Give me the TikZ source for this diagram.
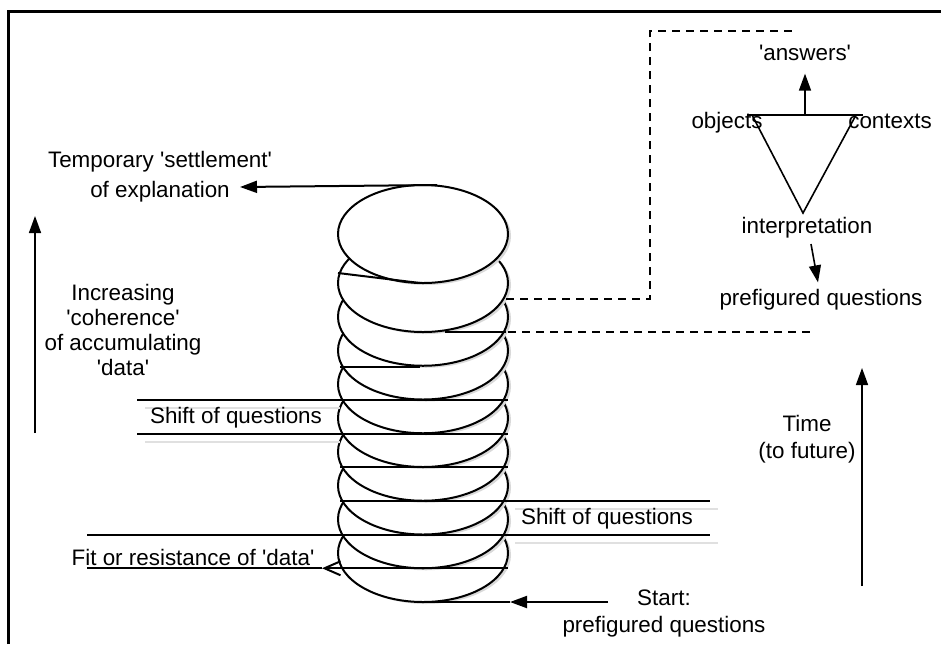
\documentclass[tikz,border=0pt]{standalone}
\usepackage{fontspec}
\setmainfont{Liberation Sans}[Ligatures=TeXOff]
\usepackage{tikz}
\usetikzlibrary{arrows.meta}

\begin{document}
\begin{tikzpicture}[x=0.5pt,y=-0.5pt,
    lbl/.style={anchor=base,align=center,inner sep=3pt,font=\fontsize{11.2}{13.5}\selectfont},
    disc/.style={draw,line width=1pt,fill=white},
    discshadow/.style={fill=black!15},
    rule/.style={line width=1pt},
    ruleshadow/.style={line width=1pt,black!12},
    guide/.style={line width=0.8pt,dash pattern=on 4pt off 3pt},
    tip/.style={-{Triangle[length=8.5pt,width=6pt]}},
    barb/.style={-{Straight Barb[length=8pt,width=7pt]}}]
      \useasboundingbox (0,0) rectangle (941,644);
      \draw[line width=1.5pt] (8,644)--(8,11)--(941,11);
      \foreach \k in {8,...,0}{
        \fill[discshadow] (426,285+33.75*\k) ellipse [x radius=85,y radius=49];
        \draw[disc] (423,283+33.75*\k) ellipse [x radius=85,y radius=49];
      }
      \fill[discshadow] (426,236) ellipse [x radius=85,y radius=49];
      \draw[disc] (423,234) ellipse [x radius=85,y radius=49];
      \draw[rule] (338,273)--(420,283);
      \draw[rule] (445,332)--(506,332);
      \draw[rule] (340,367)--(420,367);
      \draw[ruleshadow] (145,408)--(340,408);
      \draw[ruleshadow] (145,442)--(340,442);
      \draw[ruleshadow] (515,509)--(718,509);
      \draw[ruleshadow] (515,543)--(718,543);
      \draw[rule] (137,400)--(508,400);
      \draw[rule] (137,434)--(508,434);
      \draw[rule] (340,467)--(508,467);
      \draw[rule] (340,500.75)--(710,500.75);
      \draw[rule] (87,534.5)--(710,534.5);
      \draw[guide] (506,299)--(650,299)--(650,31)--(795,31);
      \draw[guide] (508,332)--(812,332);
      \node (settle) [lbl] at (160,197) {Temporary 'settlement'\\[1.5pt]of explanation};
      \node (coher) [lbl] at (123,375) {Increasing\\[-1pt]'coherence'\\[-1pt]of accumulating\\[-1pt]'data'};
      \node (shiftL) [lbl] at (236,423) {Shift of questions};
      \node (shiftR) [lbl] at (607,524) {Shift of questions};
      \node (fit) [lbl] at (193,565) {Fit or resistance of 'data'};
      \node (start) [lbl] at (664,632) {Start:\\prefigured questions};
      \node (time) [lbl] at (807,458) {Time\\(to future)};
      \node (answers) [lbl] at (805,60) {'answers'};
      \node (objects) [lbl] at (727,128) {objects};
      \node (contexts) [lbl] at (890,128) {contexts};
      \node (interp) [lbl] at (807,233) {interpretation};
      \node (prefigQ) [lbl] at (821,305) {prefigured questions};
      \coordinate (settleFrom) at (437,185);
      \coordinate (settleTip) at (240,187);
      \draw[rule,tip] (settleFrom)--(settleTip);
      \coordinate (fitFrom) at (508,568.25);
      \coordinate (fitTip) at (322,568.25);
      \coordinate (fitEnd) at (87,568.25);
      \draw[rule,barb] (fitFrom)--(fitTip);
      \draw[rule] (fitTip)--(fitEnd);
      \coordinate (startFrom) at (608,602);
      \coordinate (startTip) at (510,602);
      \coordinate (discBottom) at (430,602);
      \draw[rule,tip] (startFrom)--(startTip);
      \draw[rule] (startTip)--(discBottom);
      \coordinate (coherFrom) at (35,433);
      \coordinate (coherTip) at (35,216);
      \draw[line width=0.8pt,tip] (coherFrom)--(coherTip);
      \coordinate (timeFrom) at (862,586);
      \coordinate (timeTip) at (862,368);
      \draw[line width=0.8pt,tip] (timeFrom)--(timeTip);
      \coordinate (objCorner) at (747,115);
      \coordinate (ctxCorner) at (863,115);
      \coordinate (interpCorner) at (803,213);
      \coordinate (topMid) at (805,115);
      \draw[line width=0.8pt] (objCorner)--(ctxCorner);
      \draw[line width=0.8pt] ([xshift=2.5pt]objCorner)--(interpCorner)--([xshift=-3.5pt]ctxCorner);
      \draw[line width=0.8pt,tip,shorten >=3.5pt] (topMid)--(answers.south);
      \draw[line width=0.8pt,tip] ([xshift=2pt]interp.south)--([xshift=-1.5pt]prefigQ.north);
    \end{tikzpicture}
\end{document}
